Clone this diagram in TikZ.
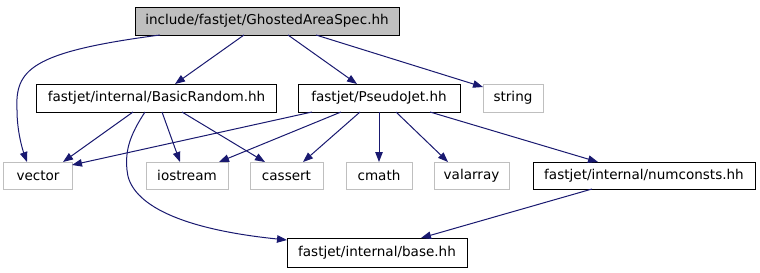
\documentclass[tikz,border=0pt]{standalone}
\usepackage{fontspec}
\setmainfont{DejaVu Sans}
\usetikzlibrary{arrows.meta,calc}
\definecolor{edgeblue}{HTML}{191970}
\definecolor{lgray}{HTML}{BFBFBF}
\begin{document}
\begin{tikzpicture}[x=1bp,y=-1bp,
  box/.style={draw=black,line width=1bp,inner sep=0pt,outer sep=0pt,minimum height=28bp,
    font=\fontsize{13.6}{16}\selectfont,text=black},
  sysbox/.style={box,draw=lgray,minimum height=27bp},
  topbox/.style={box,fill=lgray},
  dep/.style={draw=edgeblue,line width=1bp,-{Triangle[length=10bp,width=7.5bp]}}]
\useasboundingbox (0,0) rectangle (760,272);
% nodes
\node[topbox,minimum width=264bp] (top) at (267,21) {include/fastjet/GhostedAreaSpec.hh};
\node[box,minimum width=239bp] (br) at (156.5,98) {fastjet/internal/BasicRandom.hh};
\node[box,minimum width=162bp] (pj) at (379,98) {fastjet/PseudoJet.hh};
\node[sysbox,minimum width=60bp,minimum height=28bp] (string) at (513,98) {string};
\node[sysbox,minimum width=68bp] (vector) at (38,175.5) {vector};
\node[sysbox,minimum width=82bp] (iostream) at (187,175.5) {iostream};
\node[sysbox,minimum width=73bp] (cassert) at (286.5,175.5) {cassert};
\node[sysbox,minimum width=66bp] (cmath) at (379,175.5) {cmath};
\node[sysbox,minimum width=75bp] (valarray) at (471.5,175.5) {valarray};
\node[box,minimum width=222bp,minimum height=27bp] (numc) at (644,175.5) {fastjet/internal/numconsts.hh};
\node[box,minimum width=180bp,minimum height=29bp] (base) at (377,252.5) {fastjet/internal/base.hh};
% edges
\draw[dep] ($(top.south)+(-107,0)$) .. controls (30,52) and (15,70) .. (17,110)
   .. controls (17,130) and (22,148) .. ($(vector.north)+(-11,0)$);
\draw[dep] ($(top.south)+(-23,0)$) -- ($(br.north)+(18.5,0)$);
\draw[dep] ($(top.south)+(21,0)$) -- ($(pj.north)+(-22,0)$);
\draw[dep] ($(top.south)+(49,0)$) -- ($(string.west)+(0,-11)$);
\draw[dep] ($(br.south)+(-23.5,0)$) -- ($(vector.north)+(25,0)$);
\draw[dep] ($(br.south)+(5.5,0)$) -- ($(iostream.north)+(-7,0)$);
\draw[dep] ($(br.south)+(25.5,0)$) -- ($(cassert.north)+(-21.5,0)$);
\draw[dep] ($(br.south)+(-11.5,0)$) .. controls (130,135) and (125,150) .. (127,170)
   .. controls (129,200) and (170,228) .. ($(base.west)+(0,-12.5)$);
\draw[dep] ($(pj.south)+(-67,0)$) -- ($(vector.east)+(0,-10.5)$);
\draw[dep] ($(pj.south)+(-38,0)$) -- ($(iostream.north)+(32,0)$);
\draw[dep] ($(pj.south)+(-19,0)$) -- ($(cassert.north)+(16.5,0)$);
\draw[dep] (pj.south) -- (cmath.north);
\draw[dep] ($(pj.south)+(17,0)$) -- ($(valarray.north)+(-23.5,0)$);
\draw[dep] ($(pj.south)+(51,0)$) -- ($(numc.north)+(-46,0)$);
\draw[dep] ($(numc.south)+(-52,0)$) -- ($(base.north)+(44,0)$);
\end{tikzpicture}
\end{document}
